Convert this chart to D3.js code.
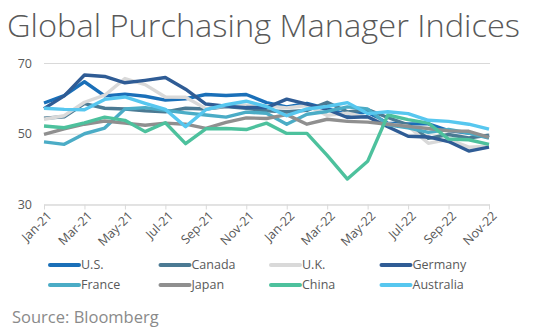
<!DOCTYPE html>
<html>
<head>
<meta charset="utf-8">
<script src="https://cdn.jsdelivr.net/npm/d3@7"></script>
<style>
body { margin:0; background:#fff; }
svg { display:block; }
</style>
</head>
<body>
<div id="chart"></div>
<script>
var months= ["Jan-21","Feb-21","Mar-21","Apr-21","May-21","Jun-21","Jul-21","Aug-21","Sep-21","Oct-21","Nov-21","Dec-21",
             "Jan-22","Feb-22","Mar-22","Apr-22","May-22","Jun-22","Jul-22","Aug-22","Sep-22","Oct-22","Nov-22"];
var yTicks= [30,50,70];

var us=        [58.7,60.8,64.7,60.7,61.2,60.6,59.5,59.9,61.1,60.8,61.1,58.8,57.6,58.6,57.1,55.4,56.1,53.0,52.8,52.8,50.9,50.2,49.0];
var canada=    [54.4,54.8,58.5,57.2,57.0,56.5,56.2,57.2,57.0,57.7,57.2,56.5,56.2,56.6,58.9,56.2,56.8,54.6,52.5,48.7,49.8,48.8,49.6];
var uk=        [54.1,55.1,58.9,60.9,65.6,63.9,60.4,60.3,57.1,57.8,58.1,57.9,57.3,58.0,55.2,55.8,54.6,52.8,52.1,47.3,48.4,46.2,46.5];
var germany=   [57.1,60.7,66.6,66.2,64.4,65.1,65.9,62.6,58.4,57.8,57.4,57.4,59.8,58.4,56.9,54.6,54.8,52.0,49.3,49.1,47.8,45.1,46.2];
var france=    [47.7,47.0,50.0,51.6,57.0,57.4,56.6,55.9,55.3,54.7,56.1,55.8,52.7,55.5,56.3,57.6,57.0,52.5,51.7,50.4,51.2,50.2,48.8];
var japan=     [49.8,51.4,52.7,53.6,53.0,52.4,53.0,52.7,51.5,53.2,54.5,54.3,55.4,52.7,54.1,53.5,53.3,52.7,52.1,51.5,50.8,50.7,49.0];
var china=     [52.2,51.7,53.1,54.7,53.8,50.6,53.1,47.2,51.4,51.5,51.2,53.0,50.1,50.1,43.9,37.2,42.2,55.3,54.0,53.0,48.5,48.3,47.0];
var australia= [57.2,56.9,56.8,59.7,60.4,58.6,56.9,52.0,56.8,58.2,59.2,57.7,55.1,57.0,57.7,58.8,55.7,56.2,55.7,53.8,53.5,52.7,51.3];

var seriesNames= ["U.S.","Canada","U.K.","Germany","France","Japan","China","Australia"];
var seriesValues= [us,canada,uk,germany,france,japan,china,australia];
var seriesColors= ["#1A6FB8","#4B7A93","#D9D9D9","#2F5C95","#4BACC6","#8F8F8F","#4DC19D","#57C7EF"];

var w= 535, h= 332;
var plotLeft= 44, plotRight= 489, plotTop= 63, plotBottom= 204.5;

var svg= d3.select("#chart").append("svg")
            .attr("width",w)
            .attr("height",h)

var x= d3.scalePoint().domain(months).range([plotLeft,plotRight]);
var y= d3.scaleLinear().domain([30,70]).range([plotBottom,plotTop]);

//Title
svg.append("text")
    .attr("x",7)
    .attr("y",37)
    .attr("font-family","'Segoe UI Light','Open Sans','Noto Sans',sans-serif")
    .attr("font-weight",300)
    .attr("font-size",32)
    .attr("fill","#595959")
    .attr("textLength",513)
    .attr("lengthAdjust","spacingAndGlyphs")
    .text("Global Purchasing Manager Indices");

//Gridlines + y labels
var yAxis= d3.axisLeft(y).tickValues(yTicks).tickSize(-(plotRight-plotLeft+1)).tickPadding(12);
var gy= svg.append("g").attr("transform","translate("+plotLeft+",0)").call(yAxis);
gy.select(".domain").remove();
gy.selectAll(".tick line").attr("stroke","#D9D9D9").attr("stroke-width",1);
gy.selectAll(".tick text")
    .attr("font-family","'Open Sans',sans-serif")
    .attr("font-size",12.5)
    .attr("fill","#595959");

//X axis with a label every two months
var xAxis= d3.axisBottom(x)
            .tickValues(months.filter(function(d,i){ return i%2==0; }))
            .tickSize(5)
            .tickSizeOuter(0);
var gx= svg.append("g").attr("transform","translate(0,"+plotBottom+")").call(xAxis);
gx.select(".domain").attr("stroke","#D9D9D9");
gx.selectAll(".tick line").attr("stroke","#D9D9D9");
gx.selectAll(".tick text")
    .attr("font-family","'Open Sans',sans-serif")
    .attr("font-size",12.5)
    .attr("fill","#595959")
    .attr("text-anchor","end")
    .attr("transform","translate(5,9) rotate(-45)")
    .attr("dy","0.35em")
    .attr("y",0)
    .attr("x",0);

var line= d3.line()
            .x(function(d,i){ return x(months[i]); })
            .y(function(d){ return y(d); });

svg.append("g").selectAll("path")
    .data(seriesValues)
    .enter()
    .append("path")
    .attr("fill","none")
    .attr("stroke",function(d,i){ return seriesColors[i]; })
    .attr("stroke-width",3.4)
    .attr("stroke-linejoin","round")
    .attr("d",line);

//Legend, 4 per row
var legend= svg.append("g").selectAll("g")
                .data(seriesNames)
                .enter()
                .append("g")
                .attr("transform",function(d,i){
                    return "translate("+(50 + (i%4)*110.5)+","+(265 + Math.floor(i/4)*20)+")";
                });
legend.append("line")
    .attr("x1",0).attr("x2",29)
    .attr("stroke",function(d,i){ return seriesColors[i]; })
    .attr("stroke-width",4)
    .attr("stroke-linecap","round");
legend.append("text")
    .attr("x",31)
    .attr("dy","0.35em")
    .attr("font-family","'Open Sans',sans-serif")
    .attr("font-size",12.5)
    .attr("fill","#595959")
    .text(function(d){ return d; });

svg.append("text")
    .attr("x",12)
    .attr("y",323)
    .attr("font-family","'Open Sans',sans-serif")
    .attr("font-size",16.5)
    .attr("fill","#8A8A8A")
    .text("Source: Bloomberg");
</script>
</body>
</html>
